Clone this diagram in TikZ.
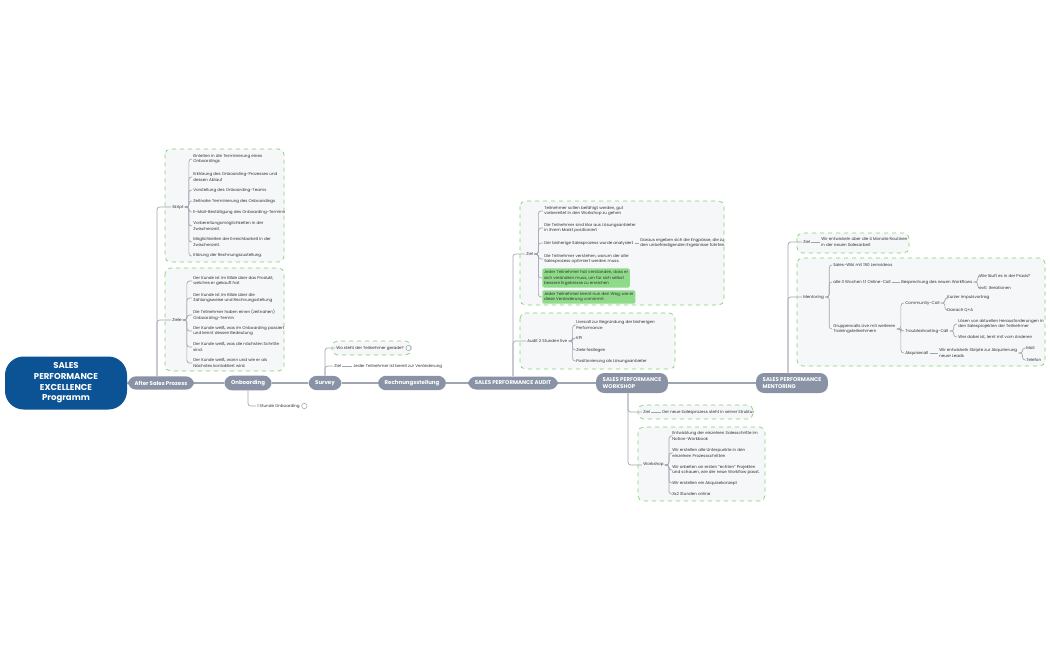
\documentclass[tikz,border=0pt]{standalone}
\usepackage{fontspec}
\setmainfont{Poppins}
\definecolor{rootc}{HTML}{0B5394}
\definecolor{pillc}{HTML}{8A93A5}
\definecolor{linec}{HTML}{A0A6B0}
\definecolor{txtc}{HTML}{333333}
\definecolor{boxc}{HTML}{F6F7F9}
\definecolor{dashc}{HTML}{7ED36B}
\definecolor{hlc}{HTML}{8FDB8A}
\newcommand{\tny}{\fontsize{3.05}{4.3}\selectfont}
\tikzset{
 tx/.style={anchor=west,align=left,font=\tny,inner sep=0.8pt,text=txtc},
 hl/.style={tx,fill=hlc,rounded corners=1.5pt,inner sep=1.3pt},
 pill/.style={fill=pillc,rounded corners=6pt,text=white,font=\fontsize{4.1}{5.2}\selectfont\bfseries,minimum height=13*0.75pt,inner xsep=5pt,align=left},
 grp/.style={draw=dashc,dashed,fill=boxc,rounded corners=4pt,line width=0.5pt},
 conn/.style={draw=linec,line width=0.5pt,rounded corners=2pt},
 spine/.style={draw=linec,line width=0.8pt}
}
\begin{document}
\begin{tikzpicture}[x=0.75pt,y=-0.75pt]
\useasboundingbox[fill=white] (0,0) rectangle (1050,650);
% group boxes
\draw[grp] (165,149) rectangle (284,262);
\draw[grp] (165,268) rectangle (284,371);
\draw[grp] (332,341) rectangle (411,355);
\draw[grp] (520,201) rectangle (724,305);
\draw[grp] (520,313) rectangle (675,369);
\draw[grp] (638,405) rectangle (753,419);
\draw[grp] (638,427) rectangle (765,501);
\draw[grp] (797,233) rectangle (909,253);
\draw[grp] (797,258) rectangle (1045,366);
% spine
\node[fill=rootc,rounded corners=14pt,minimum width=122*0.75pt,minimum height=53*0.75pt,text=white,align=center,font=\fontsize{6.4}{8}\selectfont\bfseries] (root) at (66,383) {SALES\\PERFORMANCE\\EXCELLENCE\\Programm};
\node[pill] (as) at (161,383) {After Sales Prozess};
\node[pill] (ob) at (248,383) {Onboarding};
\node[pill] (sv) at (325,383) {Survey};
\node[pill] (rs) at (412,383) {Rechnungsstellung};
\node[pill] (au) at (513,383) {SALES PERFORMANCE AUDIT};
\node[pill,minimum height=20*0.75pt] (ws) at (632,383) {SALES PERFORMANCE\\WORKSHOP};
\node[pill,minimum height=20*0.75pt] (me) at (792,383) {SALES PERFORMANCE\\MENTORING};
\draw[spine] (root) -- (as) -- (ob) -- (sv) -- (rs) -- (au) -- (ws) -- (me);
% After Sales
\node[tx] (skr) at (171,207) {Skript};
\node[tx] (s1) at (192,159) {Einleiten in die Terminierung eines\\Onboardings};
\node[tx] (s2) at (192,177) {Erklärung des Onboarding-Prozesses und\\dessen Ablauf};
\node[tx] (s3) at (192,190) {Vorstellung des Onboarding-Teams};
\node[tx] (s4) at (192,201) {Zeitnahe Terminierung des Onboardings};
\node[tx] (s5) at (192,212) {E-Mail-Bestätigung des Onboarding-Termins};
\node[tx] (s6) at (192,226) {Vorbereitungsmöglichkeiten in der\\Zwischenzeit.};
\node[tx] (s7) at (192,242) {Möglichkeiten der Erreichbarkeit in der\\Zwischenzeit.};
\node[tx] (s8) at (192,256) {Klärung der Rechnungszustellung.};
\node[tx] (zl) at (171,320) {Ziele};
\node[tx] (z1) at (192,281) {Der Kunde ist im Bilde über das Produkt,\\welches er gekauft hat};
\node[tx] (z2) at (192,298) {Der Kunde ist im Bilde über die\\Zahlungsweise und Rechnungsstellung};
\node[tx] (z3) at (192,315) {Die Teilnehmer haben einen (zeitnahen)\\Onboarding-Termin};
\node[tx] (z4) at (192,331) {Der Kunde weiß, was im Onboarding passiert\\und kennt dessen Bedeutung};
\node[tx] (z5) at (192,347) {Der Kunde weiß, was die nächsten Schritte\\sind.};
\node[tx] (z6) at (192,363) {Der Kunde weiß, wann und wie er als\\Nächstes kontaktiert wird.};
\draw[conn] ([xshift=-3pt]as.north) |- (skr.west);
\draw[conn] ([xshift=-3pt]as.north) |- (zl.west);
\foreach \c in {s1,s2,s3,s4,s5,s6,s7,s8} \draw[conn] (skr.east) -- ++(4,0) |- (\c.west);
\foreach \c in {z1,z2,z3,z4,z5,z6} \draw[conn] (zl.east) -- ++(4,0) |- (\c.west);
% Onboarding
\node[tx] (o1) at (256,406) {1 Stunde Onboarding};
\draw[linec,line width=0.4pt] ([xshift=2.5pt]o1.east) circle (2pt);
\draw[conn] (ob.south) |- (o1.west);
% Survey
\node[tx] (v1) at (335,348) {Wo steht der Teilnehmer gerade?};
\draw[linec,line width=0.4pt] ([xshift=2.5pt]v1.east) circle (2pt);
\node[tx] (vz) at (333,366) {Ziel};
\node[tx] (vz1) at (352,366) {Jeder Teilnehmer ist bereit zur Veränderung};
\draw[conn] (sv.north) |- (v1.west);
\draw[conn] (sv.north) |- (vz.west);
\draw[conn] (vz.east) -- (vz1.west);
% Audit
\node[tx] (az) at (525,254) {Ziel};
\node[tx] (a1) at (543,211) {Teilnehmer sollen befähigt werden, gut\\vorbereitet in den Workshop zu gehen};
\node[tx] (a2) at (543,228) {Die Teilnehmer sind klar aus Lösungsanbieter\\in ihrem Markt positioniert};
\node[tx] (a3) at (543,243) {Der bisherige Salesprozess wurde analysiert};
\node[tx] (a3a) at (639,243) {Daraus ergeben sich die Engpässe, die zu\\den unbefriedigenden Ergebnisse führten.};
\node[tx] (a4) at (543,259) {Die Teilnehmer verstehen, warum der alte\\Salesprozess optimiert werden muss.};
\node[hl] (a5) at (542,278) {Jeder Teilnehmer hat verstanden, dass er\\sich verändern muss, um für sich selbst\\bessere Ergebnisse zu erreichen};
\node[hl] (a6) at (542,297) {Jeder Teilnehmer kennt nun den Weg, wie er\\diese Veränderung vornimmt.};
\node[tx] (al) at (526,341) {Audit 2 Stunden live};
\node[tx] (b1) at (575,325) {Livecall zur Begründung der bisherigen\\Performance};
\node[tx] (b2) at (575,338) {KPI};
\node[tx] (b3) at (575,350) {Ziele festlegen};
\node[tx] (b4) at (575,361) {Positionierung als Lösungsanbieter};
\draw[conn] (au.north) |- (az.west);
\draw[conn] (au.north) |- (al.west);
\foreach \c in {a1,a2,a3,a4,a5,a6} \draw[conn] (az.east) -- ++(4,0) |- (\c.west);
\draw[conn] (a3.east) -- (a3a.west);
\foreach \c in {b1,b2,b3,b4} \draw[conn] (al.east) -- ++(4,0) |- (\c.west);
% Workshop
\node[tx] (wz) at (642,412) {Ziel};
\node[tx] (wz1) at (661,412) {Der neue Salesprozess steht in seiner Struktur};
\node[tx] (wl) at (642,465) {Workshop};
\node[tx] (w1) at (671,436) {Entwicklung der einzelnen Salesschritte im\\Notion-Workbook};
\node[tx] (w2) at (671,453) {Wir erstellen alle Unterpunkte in den\\einzelnen Prozessschritten};
\node[tx] (w3) at (671,470) {Wir arbeiten an ersten "echten" Projekten\\und schauen, wie der neue Workflow passt.};
\node[tx] (w4) at (671,483) {Wir erstellen ein Akquisekonzept};
\node[tx] (w5) at (671,494) {3x2 Stunden online};
\draw[conn] ([xshift=-3pt]ws.south) |- (wz.west);
\draw[conn] ([xshift=-3pt]ws.south) |- (wl.west);
\draw[conn] (wz.east) -- (wz1.west);
\foreach \c in {w1,w2,w3,w4,w5} \draw[conn] (wl.east) -- ++(4,0) |- (\c.west);
% Mentoring
\node[tx] (mz) at (802,242) {Ziel};
\node[tx] (mz1) at (820,242) {Wir entwickeln über die 4 Monate Routinen\\in der neuen Salesarbeit};
\node[tx] (ml) at (802,297) {Mentoring};
\node[tx] (m1) at (832,265) {Sales-Wiki mit 150 Lernvideos};
\node[tx] (m2) at (832,282) {alle 3 Wochen 1:1 Online-Call};
\node[tx] (m2a) at (900,282) {Besprechung des neuen Workflows};
\node[tx] (m2b) at (978,276) {Wie läuft es in der Praxis?};
\node[tx] (m2c) at (978,288) {evtl. Iterationen};
\node[tx] (m3) at (832,329) {Gruppencalls Live mit weiteren\\Trainingsteilnehmern};
\node[tx] (c1) at (904,303) {Community-Call};
\node[tx] (c1a) at (946,298) {Kurzer Impulsvortrag};
\node[tx] (c1b) at (946,310) {Danach Q+A};
\node[tx] (c2) at (904,331) {Troubleshooting-Call};
\node[tx] (c2a) at (957,324) {Lösen von aktuellen Herausforderungen in\\den Salesprojekten der Teilnehmer};
\node[tx] (c2b) at (957,337) {Wer dabei ist, lernt mit vom Anderen};
\node[tx] (c3) at (904,353) {Akquisecall};
\node[tx] (c3a) at (938,353) {Wir entwickeln Skripte zur Akquirierung\\neuer Leads};
\node[tx] (c3b) at (1025,348) {Mail};
\node[tx] (c3c) at (1025,360) {Telefon};
\draw[conn] ([xshift=-3pt]me.north) |- (mz.west);
\draw[conn] ([xshift=-3pt]me.north) |- (ml.west);
\draw[conn] (mz.east) -- (mz1.west);
\foreach \c in {m1,m2,m3} \draw[conn] (ml.east) -- ++(4,0) |- (\c.west);
\draw[conn] (m2.east) -- (m2a.west);
\foreach \c in {m2b,m2c} \draw[conn] (m2a.east) -- ++(4,0) |- (\c.west);
\foreach \c in {c1,c2,c3} \draw[conn] (m3.east) -- ++(4,0) |- (\c.west);
\foreach \c in {c1a,c1b} \draw[conn] (c1.east) -- ++(4,0) |- (\c.west);
\foreach \c in {c2a,c2b} \draw[conn] (c2.east) -- ++(4,0) |- (\c.west);
\draw[conn] (c3.east) -- (c3a.west);
\foreach \c in {c3b,c3c} \draw[conn] (c3a.east) -- ++(4,0) |- (\c.west);
\end{tikzpicture}
\end{document}
